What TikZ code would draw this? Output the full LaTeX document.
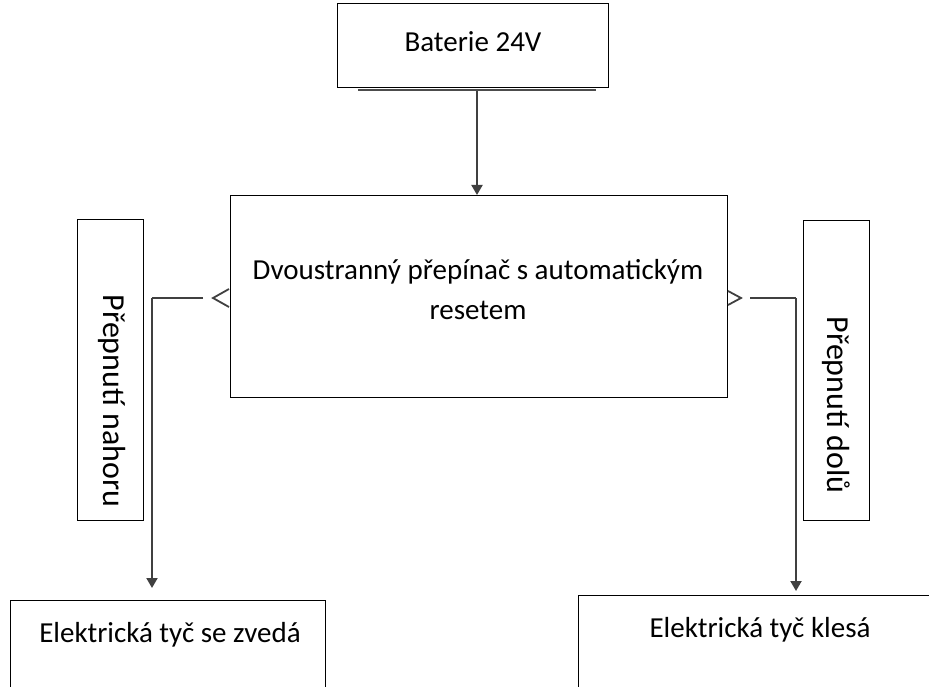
\documentclass[tikz,border=0pt]{standalone}
\usepackage{fontspec}
\setmainfont{Carlito}
\usetikzlibrary{arrows.meta}
\begin{document}
\begin{tikzpicture}[x=1pt,y=-1pt,
  box/.style={draw=black,line width=1.3pt,fill=white,inner sep=0pt},
  conn/.style={draw=black!75,line width=2pt},
  arr/.style={conn,-{Triangle[length=10pt,width=11pt]}},
  lbl/.style={font=\fontsize{29}{40}\selectfont,align=center,inner sep=0pt},
  vlbl/.style={font=\fontsize{32}{40}\selectfont,inner sep=0pt,rotate=-90}]
\useasboundingbox (0,0) rectangle (929,687);
% boxes
\node[box,minimum width=271pt,minimum height=84pt,anchor=north west] (bat) at (337,3) {};
\node[lbl] at (473,42) {Baterie 24V};
\draw[black!70,line width=1.5pt] (358,90) -- (596,90);
\node[box,minimum width=497pt,minimum height=202pt,anchor=north west] (sw) at (230,195) {};
\node[lbl] at (478,290) {Dvoustranný přepínač s automatickým\\resetem};
\node[box,minimum width=66pt,minimum height=301pt,anchor=north west] (up) at (77,219) {};
\node[vlbl] at (112,401) {Přepnutí nahoru};
\node[box,minimum width=66pt,minimum height=300pt,anchor=north west] (dn) at (803,220) {};
\node[vlbl] at (836,405) {Přepnutí dolů};
\node[box,minimum width=315pt,minimum height=95pt,anchor=north west] (rise) at (10,600) {};
\node[lbl] at (170,635) {Elektrická tyč se zvedá};
\node[box,minimum width=360pt,minimum height=100pt,anchor=north west] (fall) at (578,595) {};
\node[lbl] at (760,630) {Elektrická tyč klesá};
% connectors
\coordinate (bt) at (477,91);
\draw[arr] (bt) -- (bt |- sw.north);
\coordinate (lA) at (203,298);
\coordinate (lB) at (152,298);
\coordinate (lC) at (152,588);
\draw[conn] (lA) -- (lB);
\draw[arr] (lB) -- (lC);
\draw[conn,line width=1.8pt] (229,289) -- (213,298) -- (229,307);
\coordinate (rA) at (750,298);
\coordinate (rB) at (796,298);
\coordinate (rC) at (796,591);
\draw[conn] (rA) -- (rB);
\draw[arr] (rB) -- (rC);
\draw[conn,line width=1.8pt] (728,291) -- (741,298) -- (728,305);
\end{tikzpicture}
\end{document}
